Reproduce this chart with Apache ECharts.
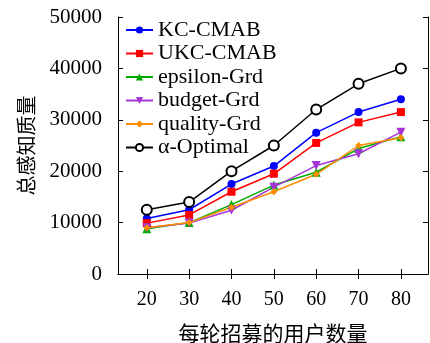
<!DOCTYPE html>
<html><head><meta charset="utf-8">
<script src="https://cdn.jsdelivr.net/npm/echarts@6/dist/echarts.min.js"></script>
<style>html,body{margin:0;padding:0;background:#fff}#c{width:430px;height:343px}</style>
</head><body><div id="c"></div>
<script>
var xValues = [20, 30, 40, 50, 60, 70, 80];
var kcCmab   = [10800, 12500, 17500, 21000, 27500, 31500, 34000];
var ukcCmab  = [9900, 11500, 16000, 19500, 25500, 29500, 31500];
var epsGrd   = [8800, 10000, 13500, 17300, 19800, 24400, 26700];
var budgetGrd= [9000, 9900, 12400, 16900, 21100, 23400, 27600];
var qualityGrd=[9000, 10000, 13000, 16000, 19400, 25000, 26500];
var alphaOpt = [12500, 14000, 20000, 25000, 32000, 37000, 40000];
var xName = '每轮招募的用户数量';
var yName = '总感知质量';

var font = '"Liberation Serif","DejaVu Serif",serif';
var cjk = '"Noto Sans CJK SC",sans-serif';
function pairs(v){return xValues.map(function(x,i){return [x,v[i]];});}
function mk(name,data,color,symbol,size,extra){
  var s={name:name,type:'line',data:pairs(data),symbol:symbol,symbolSize:size,
    lineStyle:{color:color,width:1.5,type:'solid'},itemStyle:{color:color},color:color,
    animation:false};
  for(var k in extra) s[k]=extra[k];
  return s;
}
var chart = echarts.init(document.getElementById('c'));
chart.setOption({
  animation:false,
  grid:{left:118,right:2,top:17,bottom:69,outerBoundsMode:'none',containLabel:false},
  legend:{orient:'vertical',left:121,top:17,itemWidth:27,itemHeight:9,itemGap:1.5,
    padding:[2,4,2,4],
    textStyle:{fontFamily:font,fontSize:22,color:'#000'},
    data:['KC-CMAB','UKC-CMAB','epsilon-Grd','budget-Grd','quality-Grd','α-Optimal']},
  xAxis:[{type:'value',min:13.2,max:86.4,position:'bottom',
    name:xName,nameLocation:'middle',nameGap:49,
    nameTextStyle:{fontFamily:cjk,fontSize:21,color:'#000'},
    axisLine:{lineStyle:{color:'#000',width:1}},
    axisTick:{inside:true,length:5,customValues:xValues,lineStyle:{color:'#000'}},
    axisLabel:{customValues:xValues,fontFamily:font,fontSize:20,color:'#000',margin:16},
    splitLine:{show:false}},
   {type:'value',min:13.2,max:86.4,position:'top',
    axisLine:{lineStyle:{color:'#000',width:1}},
    axisTick:{inside:true,length:5,customValues:xValues,lineStyle:{color:'#000'}},
    axisLabel:{show:false},splitLine:{show:false}}],
  yAxis:[{type:'value',min:0,max:50000,interval:10000,position:'left',
    name:yName,nameLocation:'middle',nameGap:82,nameRotate:90,
    nameTextStyle:{fontFamily:cjk,fontSize:20,color:'#000'},
    axisLine:{show:true,lineStyle:{color:'#000',width:1}},
    axisTick:{show:true,inside:true,length:5,lineStyle:{color:'#000'}},
    axisLabel:{fontFamily:font,fontSize:21,color:'#000',margin:16,
      formatter:function(v){return String(v);}},
    splitLine:{show:false}},
   {type:'value',min:0,max:50000,interval:10000,position:'right',
    axisLine:{show:true,lineStyle:{color:'#000',width:1}},
    axisTick:{show:true,inside:true,length:5,lineStyle:{color:'#000'}},
    axisLabel:{show:false},splitLine:{show:false}}],
  series:[
    mk('KC-CMAB',kcCmab,'#0000ff','circle',8,{}),
    mk('UKC-CMAB',ukcCmab,'#ff0000','rect',8,{}),
    mk('epsilon-Grd',epsGrd,'#00aa00','triangle',9,{}),
    mk('budget-Grd',budgetGrd,'#a633d6','triangle',9,{symbolRotate:180}),
    mk('quality-Grd',qualityGrd,'#ff8c00','diamond',7,{}),
    mk('α-Optimal',alphaOpt,'#000000','emptyCircle',10,{})
  ]
});
</script></body></html>
